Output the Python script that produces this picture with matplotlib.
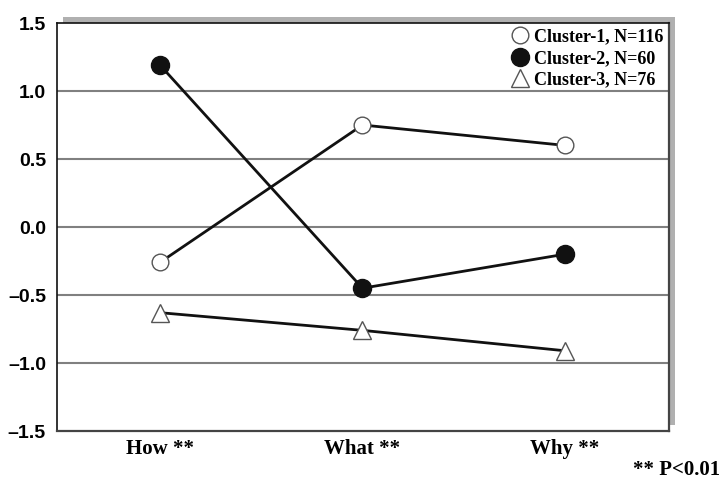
import matplotlib
matplotlib.use("Agg")
import matplotlib.pyplot as plt
from matplotlib.patches import Rectangle
from matplotlib.ticker import FuncFormatter
import matplotlib.transforms as mtransforms

categories = ["How **", "What **", "Why **"]
cluster1 = [-0.26, 0.75, 0.60]
cluster2 = [1.19, -0.45, -0.20]
cluster3 = [-0.63, -0.76, -0.91]
labels = ["Cluster-1, N=116", "Cluster-2, N=60", "Cluster-3, N=76"]

serif = "Liberation Serif"
sans = "Liberation Sans"

fig = plt.figure(figsize=(7.27, 4.8), dpi=100)
ax = fig.add_axes([57 / 727, 49 / 480, 612 / 727, 408 / 480])

# gray drop shadow behind the plot frame (up and to the right)
shadow = mtransforms.offset_copy(ax.transAxes, fig=fig, x=6, y=6, units="dots")
fig.patches.append(Rectangle((0, 0), 1, 1, transform=shadow, facecolor="#b0b0b0",
                             edgecolor="none", zorder=0))
ax.set_zorder(1)
ax.patch.set_facecolor("white")

x = range(len(categories))
ax.plot(x, cluster1, color="#111111", lw=2, marker="o", ms=12, mfc="white",
        mec="#555555", mew=1, label=labels[0], zorder=3)
ax.plot(x, cluster2, color="#111111", lw=2, marker="o", ms=13, mfc="#111111",
        mec="#111111", label=labels[1], zorder=3)
ax.plot(x, cluster3, color="#111111", lw=2, marker="^", ms=13, mfc="white",
        mec="#555555", mew=1, label=labels[2], zorder=3)

ax.set_xlim(-0.509, 2.514)
ax.set_ylim(-1.5, 1.5)
ax.set_yticks([-1.5, -1.0, -0.5, 0.0, 0.5, 1.0, 1.5])
ax.yaxis.set_major_formatter(FuncFormatter(lambda v, p: f"{v:.1f}".replace("-", "\u2013")))
for y in [-1.0, -0.5, 0.0, 0.5, 1.0]:
    ax.axhline(y, color="#808080", lw=1.5, zorder=1)

ax.set_xticks(list(x))
ax.set_xticklabels(categories, fontfamily=serif, fontweight="bold", fontsize=15)
ax.tick_params(axis="x", length=0, pad=6)
ax.tick_params(axis="y", length=0, pad=8)
for t in ax.get_yticklabels():
    t.set_fontfamily(sans)
    t.set_fontweight("bold")
    t.set_fontsize(14)

for side in ["left", "top"]:
    ax.spines[side].set_color("#111111")
    ax.spines[side].set_linewidth(1.2)
for side in ["right", "bottom"]:
    ax.spines[side].set_color("#444444")
    ax.spines[side].set_linewidth(1.6)

ax.legend(loc="upper right", frameon=False, prop={"family": serif, "weight": "bold", "size": 13},
          handlelength=0.6, handletextpad=0.5, labelspacing=0.25, borderaxespad=0.1,
          borderpad=0.2)
for line in ax.get_legend().get_lines():
    line.set_linestyle("none")

fig.text(720 / 727, 10 / 480, "** P<0.01", fontfamily=serif, fontweight="bold",
         fontsize=15, ha="right", va="center")

fig.savefig("out.png", dpi=100)
